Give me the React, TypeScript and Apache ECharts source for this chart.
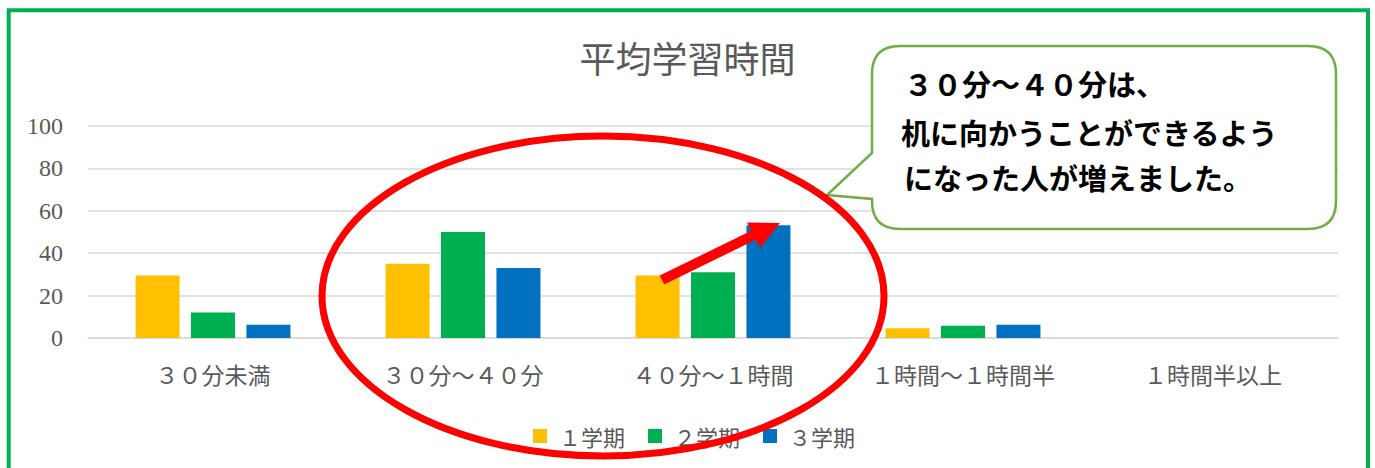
import React, { useEffect, useRef } from "react";
import * as echarts from "echarts";

const categories = ["３０分未満", "３０分～４０分", "４０分～１時間", "１時間～１時間半", "１時間半以上"];
const seriesNames = ["１学期", "２学期", "３学期"];
const term1 = [29.5, 35, 29.5, 4.6, 0];
const term2 = [12, 50, 31, 5.8, 0];
const term3 = [6.3, 33, 53.2, 6.3, 0];
const seriesColors = ["#FFC000", "#00B050", "#0070C0"];
const titleText = "平均学習時間";
const calloutLines = ["３０分～４０分は、", "机に向かうことができるよう", "になった人が増えました。"];

const calloutPath =
  "M900 46 L1308 46 Q1336 46 1336 74 L1336 201 Q1336 229 1308 229 L900 229 Q872 229 872 201 L872 199 L827 195 L872 153 L872 74 Q872 46 900 46 Z";

let registered = false;
function ensureShapes() {
  if (registered) return;
  echarts.graphic.registerShape("callout", echarts.graphic.extendPath(calloutPath, {}) as any);
  registered = true;
}

const serifFont = "'Liberation Serif', 'Noto Sans CJK JP', serif";
const cjkFont = "'Noto Sans CJK JP', sans-serif";

export default function App() {
  const ref = useRef<HTMLDivElement>(null);
  useEffect(() => {
    if (!ref.current) return;
    ensureShapes();
    const chart = echarts.init(ref.current, undefined, { renderer: "svg" });
    const data = [term1, term2, term3];
    chart.setOption({
      animation: false,
      backgroundColor: "#ffffff",
      title: {
        text: titleText,
        left: "center",
        top: 34,
        textStyle: { fontSize: 36, fontWeight: "normal", color: "#595959", fontFamily: cjkFont },
      },
      legend: {
        data: seriesNames,
        left: 528,
        top: 420,
        itemWidth: 14,
        itemHeight: 14,
        itemGap: 23,
        icon: "rect",
        textStyle: { fontSize: 22, color: "#595959", fontFamily: cjkFont, padding: [0, 0, 0, 7] },
      },
      grid: { left: 88, right: 37, top: 126, bottom: 130, containLabel: false },
      xAxis: {
        type: "category",
        data: categories,
        axisLine: { lineStyle: { color: "#d9d9d9", width: 1.5 } },
        axisTick: { show: false },
        axisLabel: { fontSize: 23, color: "#595959", fontFamily: cjkFont, margin: 24 },
      },
      yAxis: {
        type: "value",
        min: 0,
        max: 100,
        interval: 20,
        axisLine: { show: false },
        axisTick: { show: false },
        splitLine: { lineStyle: { color: "#d9d9d9", width: 1.5 } },
        axisLabel: { fontSize: 24, color: "#595959", fontFamily: serifFont, margin: 25 },
      },
      series: seriesNames.map((name, i) => ({
        name,
        type: "bar",
        data: data[i],
        barWidth: 44,
        barGap: "26%",
        itemStyle: { color: seriesColors[i] },
      })),
      graphic: [
        {
          type: "rect",
          z: 100,
          shape: { x: 8.7, y: 10.3, width: 1359.3, height: 480 },
          style: { fill: "none", stroke: "#00B050", lineWidth: 4 },
        },
        {
          type: "callout",
          z: 100,
          x: 0,
          y: 0,
          style: { fill: "#ffffff", stroke: "#70AD47", lineWidth: 2.5 },
        },
        ...calloutLines.map((t, i) => ({
          type: "text",
          z: 101,
          x: i === 1 ? 901 : 904,
          y: [83, 132, 177][i],
          style: {
            text: t,
            fill: "#000000",
            fontSize: 29,
            fontWeight: "bold",
            fontFamily: cjkFont,
            verticalAlign: "middle",
            align: "left",
          },
        })),
        {
          type: "line",
          z: 102,
          shape: { x1: 662, y1: 280, x2: 756, y2: 234 },
          style: { stroke: "#FF0000", lineWidth: 10 },
        },
        {
          type: "polygon",
          z: 102,
          shape: { points: [[780, 223], [747, 222.5], [760, 248]] },
          style: { fill: "#FF0000" },
        },
        {
          type: "ellipse",
          z: 103,
          shape: { cx: 603, cy: 296, rx: 281, ry: 160 },
          style: { fill: "none", stroke: "#FF0000", lineWidth: 7 },
        },
      ],
    });
    return () => chart.dispose();
  }, []);
  return (
    <div
      ref={ref}
      style={{ position: "fixed", left: 0, top: 0, width: 1375, height: 468, background: "#fff" }}
    />
  );
}
